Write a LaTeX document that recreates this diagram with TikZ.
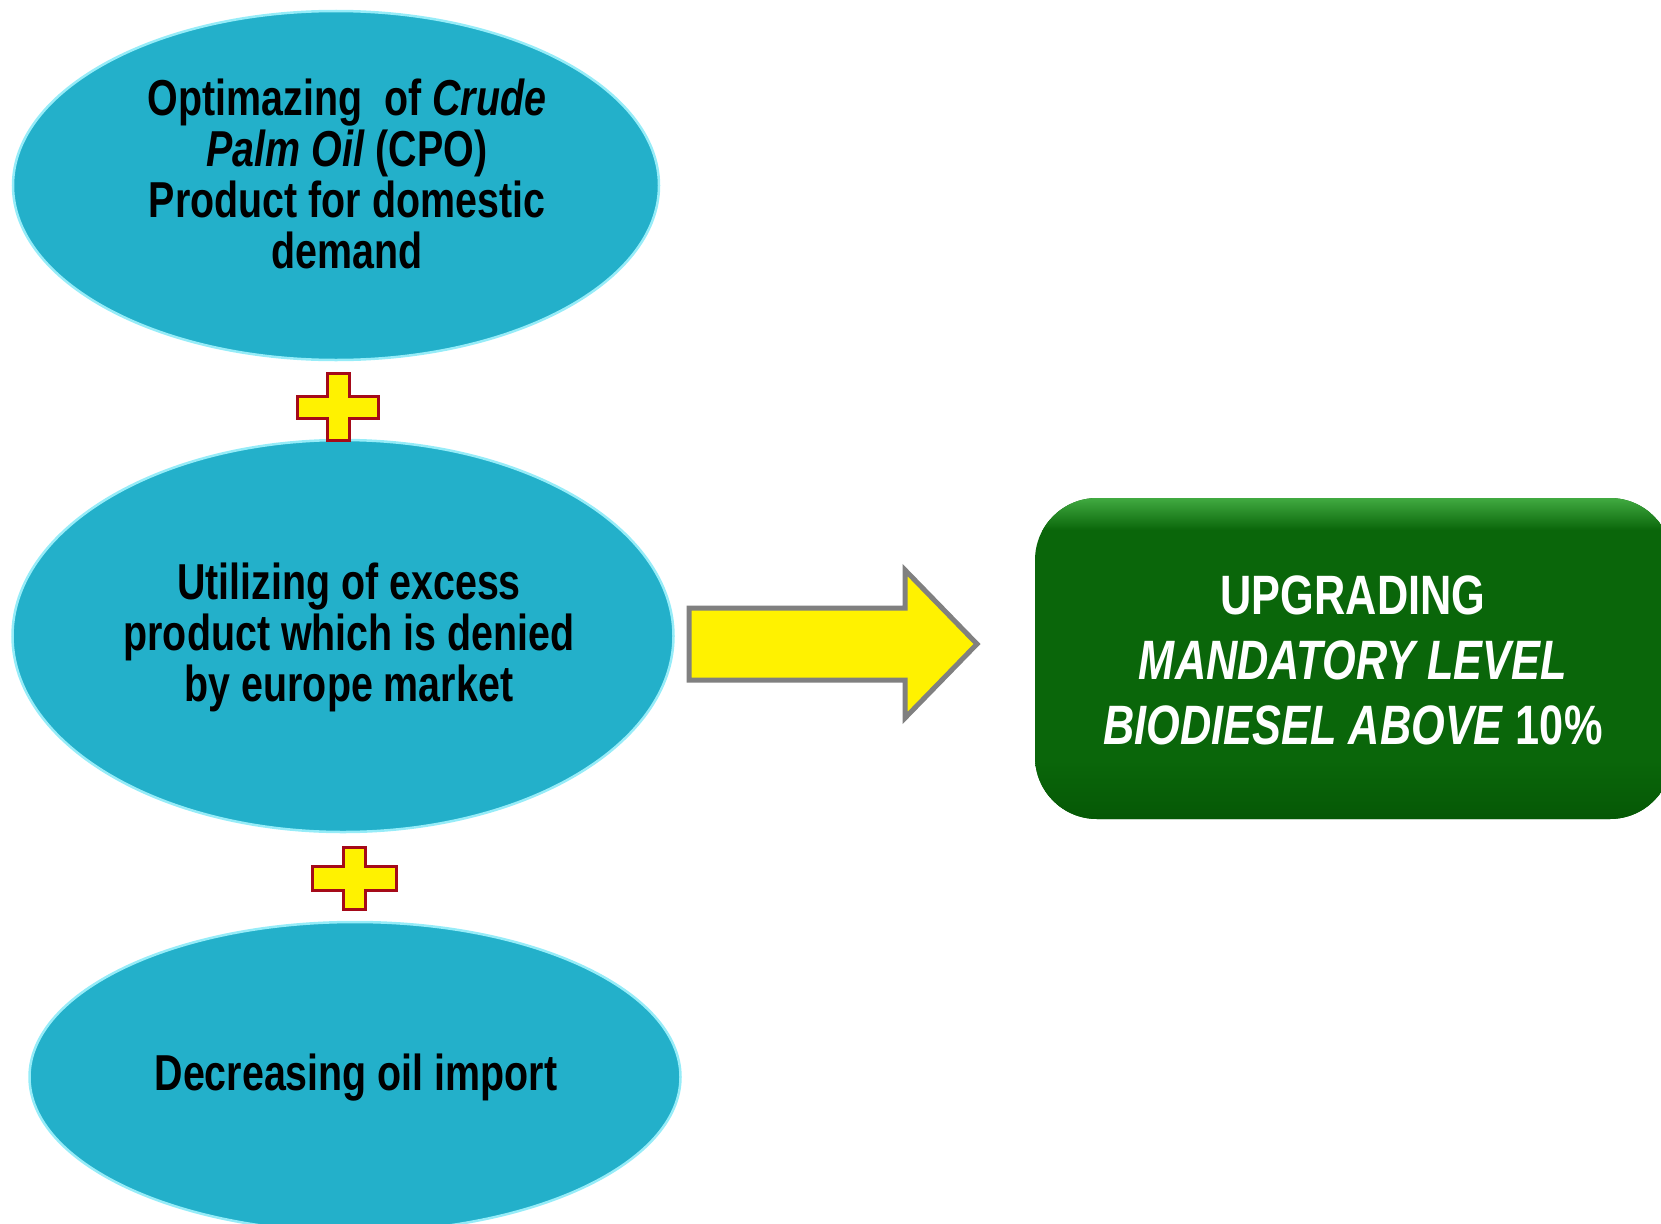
\documentclass[tikz,border=0pt]{standalone}
\usepackage{fontspec}
\newfontfamily\lbl{Liberation Sans}[FakeStretch=0.78]
\usetikzlibrary{shapes.geometric}
\definecolor{oval}{RGB}{35,176,202}
\definecolor{ovalrim}{RGB}{150,236,248}
\definecolor{boxgreen}{RGB}{10,102,10}
\definecolor{boxtop}{RGB}{65,170,65}
\definecolor{arrowgray}{RGB}{128,128,128}
\definecolor{plusred}{RGB}{165,10,25}
\tikzset{
  x=1pt, y=-1pt,
  oval/.style={ellipse, fill=oval, draw=ovalrim, line width=2.5pt, inner sep=0pt},
  ovaltext/.style={font=\lbl\bfseries\fontsize{50.5}{51}\selectfont, text=black, align=center, inner sep=0pt},
  boxtext/.style={font=\lbl\bfseries\fontsize{55.5}{65}\selectfont, text=white, align=center, inner sep=0pt},
  plusbox/.style={fill=yellow, draw=plusred, line width=3pt, line join=miter},
  blockarrow/.style={fill=yellow, draw=arrowgray, line width=5pt, line join=miter}
}
\begin{document}
\begin{tikzpicture}
\useasboundingbox (0,0) rectangle (1661,1223);
% ovals
\node[oval, minimum width=646, minimum height=349] (e1) at (336,185.5) {};
\node[oval, minimum width=661, minimum height=392] (e2) at (343,636) {};
\node[oval, minimum width=651, minimum height=310] (e3) at (355,1077) {};
% texts
\node[ovaltext] (t1) at (347,174) {Optimazing\ \ of \textit{Crude}\\ \textit{Palm Oil} (CPO)\\ Product for domestic\\ demand};
\node[ovaltext] (t2) at (349,637) {Utilizing of excess\\ product which is denied\\ by europe market};
\node[ovaltext] (t3) at (356,1078) {Decreasing oil import};
% plus signs
\draw[plusbox] (327,373) -- (349,373) -- (349,396) -- (378,396) -- (378,418) -- (349,418) -- (349,440) -- (327,440) -- (327,418) -- (297,418) -- (297,396) -- (327,396) -- cycle;
\draw[plusbox] (343,847) -- (365,847) -- (365,866) -- (396,866) -- (396,890) -- (365,890) -- (365,909) -- (343,909) -- (343,890) -- (312,890) -- (312,866) -- (343,866) -- cycle;
% block arrow
\draw[blockarrow] (689,608) -- (905,608) -- (905,570) -- (977,644) -- (905,718) -- (905,680) -- (689,680) -- cycle;
% green box
\fill[boxgreen, rounded corners=62pt] (1035,498) rectangle (1672,819);
\begin{scope}
  \clip[rounded corners=62pt] (1035,498) rectangle (1672,819);
  \shade[top color=boxtop, bottom color=boxgreen] (1035,498) rectangle (1672,530);
  \shade[top color=boxgreen, bottom color={rgb,255:red,5;green,88;blue,5}] (1035,760) rectangle (1672,819);
\end{scope}
\node[inner sep=0pt, minimum width=637, minimum height=321] (g) at (1353.5,658.5) {};
\node[boxtext] (gt) at (1353,660) {UPGRADING\\ \textit{MANDATORY LEVEL}\\ \textit{BIODIESEL ABOVE} 10\%};
\end{tikzpicture}
\end{document}
